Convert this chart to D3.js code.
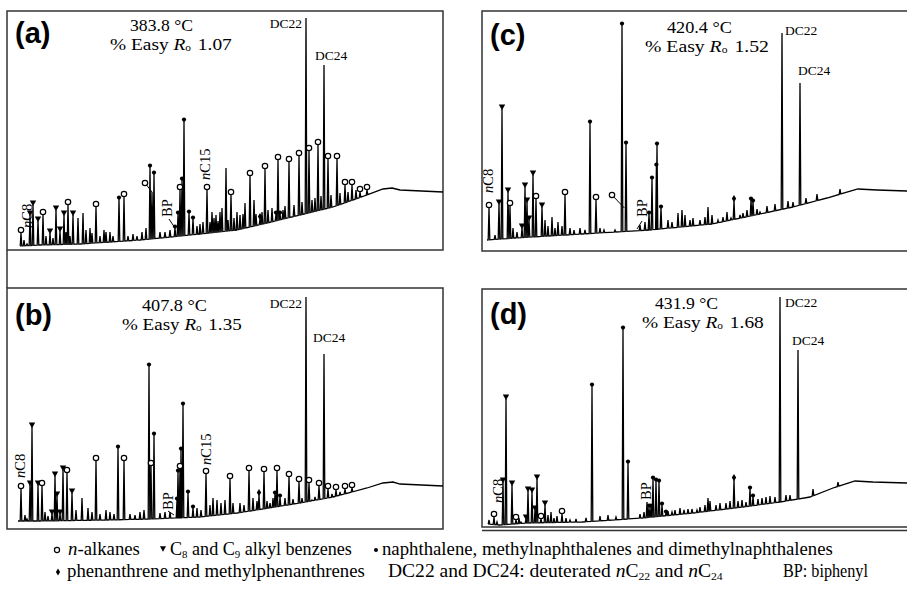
<!DOCTYPE html>
<html><head><meta charset="utf-8">
<script src="https://cdn.jsdelivr.net/npm/d3@7"></script>
<style>body{margin:0;background:#fff}svg{display:block}.serif{font-family:"Liberation Serif","Times New Roman",serif}.sans{font-family:"Liberation Sans",Arial,sans-serif}</style>
</head><body>
<svg id="chart" width="907" height="589"></svg>
<script>
// ---------------- DATA ----------------
// retention time (min) vs relative abundance; peak types:
// o = n-alkane, v = C8/C9 alkyl benzene, n = naphthalenes, p = phenanthrenes, D = deuterated standard
const panelLabels = ["(a)", "(b)", "(c)", "(d)"];
const temperatures = ["383.8 °C", "407.8 °C", "420.4 °C", "431.9 °C"];
const easyRo = ["1.07", "1.35", "1.52", "1.68"];

const baselineA = [[3.25,2],[8.25,2.5],[18.25,3],[33.25,5],[48.25,8],[57.5,10],[65,13.5],[73.25,17.5],[81.5,21.5],[90,27.5],[94,30.5],[96.25,31],[98.25,30],[109,29]];
const peaksA = [[3.5,8.5,"o"],[5.75,17.5,"v"],[6.5,22.5,"v"],[7.75,14.5,"v"],[9,17.5,"o"],[10.75,8.5,"v"],[12.25,20,"v"],[13.25,9.5,"v"],[14.25,17.5,"v"],[15.25,22.5,"o"],[16.5,17.5,"v"],[22.25,21.5,"o"],[28,25.5,"n"],[29.25,26.5,"o"],[35.75,41.5,"n"],[36.75,38,"n"],[42,11,"n"],[42.75,18,"n"],[43.25,30,"o"],[43.75,35,"n"],[44.25,64.5,"n"],[45.5,18.5,"n"],[46.5,15.5,"n"],[50,30,"o"],[56,27.5,"o"],[60.75,37,"o"],[63.25,15.5,"p"],[64.5,40.5,"o"],[67.25,18,"n"],[67.75,45,"o"],[68.25,18,"n"],[70.5,44,"o"],[73,47,"o"],[74.75,116,"D"],[75.5,49.5,"o"],[77.75,52.5,"o"],[79.25,92.5,"D"],[80.25,45.5,"o"],[82.5,45.5,"o"],[84.5,32.5,"o"],[86.25,32.5,"o"],[88.25,29,"o"],[90,30,"o"]];
const minorA = [[4.25,5],[5,3],[9.75,7],[11.5,6],[14.75,9],[15.75,7],[17.75,16],[19,18.5],[19.75,10],[20.75,11],[21.25,8.5],[23.25,7],[24.25,10],[24.75,9],[25.75,9],[26.5,7],[30.25,7],[31.5,8],[32.5,7],[33.75,9],[34.75,11],[36.25,29],[38.25,9],[39.5,9],[40.75,10],[47.5,12],[48.25,13],[49,14],[50.75,14],[51.25,19],[51.75,16],[52.25,17.5],[52.75,14.5],[53.25,19],[53.75,21],[54.75,41],[55.25,15],[56.75,16],[57.5,19],[58.25,17.5],[59,18],[59.5,23.5],[61.75,25],[62.25,18],[63.75,19],[65.25,20],[66.25,21],[69,20],[69.5,22],[71.75,22.5],[73.75,24],[76.25,25],[77,26],[78.5,27],[81,27.5],[83.25,28.5],[85.25,29],[87.25,30]];

const baselineB = [[2.75,4.5],[8.25,4.5],[25,5],[35.75,5.5],[48.25,6.5],[57.5,8.5],[60.75,9.5],[73.25,13.5],[81.5,16.5],[90,21],[94,23.5],[96.5,24],[98.25,23],[109,22]];
const peaksB = [[3.5,20.5,"o"],[5.75,22.5,"v"],[6.25,51.5,"v"],[7.75,22.5,"v"],[8.75,22,"o"],[11.25,8,"v"],[12,27,"v"],[12.5,17,"v"],[13.25,8,"v"],[14,30,"v"],[15,28.5,"o"],[16.25,18.5,"v"],[22.25,34.5,"o"],[27.75,41,"n"],[29.25,34.5,"o"],[35.5,82,"n"],[36,32,"o"],[36.75,47.5,"n"],[42.5,15,"n"],[42.75,29,"n"],[43.25,30.5,"o"],[43.5,40,"n"],[44,62.5,"n"],[45.25,18.5,"n"],[46.5,11,"n"],[49.75,28,"o"],[55.75,25.5,"o"],[60.5,29.5,"o"],[63,17.5,"p"],[64.25,29,"o"],[67,18,"n"],[67.5,29.5,"o"],[68.25,16.5,"n"],[70.5,26.5,"o"],[73,24,"o"],[74.75,116.5,"D"],[75.5,23.5,"o"],[78,22,"o"],[79.25,88,"D"],[80.25,20.5,"o"],[82.25,20,"o"],[84.5,20.5,"o"],[86.25,21,"o"]];
const minorB = [[4.5,7.5],[5,5.5],[9.5,9],[10.25,7],[17.25,10],[18.75,16],[20.25,11],[21.25,9],[23.25,8],[24.75,10],[25.75,9],[26.75,8],[30.75,8],[32,7.5],[33.25,9],[34.25,10],[38.25,8.5],[39.5,9],[40.75,9],[47.5,11],[48.5,10],[50.75,12.5],[51.5,16],[52.5,15],[53.5,13.5],[54.5,15],[56.5,13.5],[58.25,13.5],[59.25,12.5],[61.5,16],[62.5,14.5],[65,14.5],[65.75,13.5],[66.5,16],[69.5,16],[71.5,15.5],[73.75,16],[76.25,15],[77,16.5],[81.25,18],[83.25,19]];

const baselineC = [[1.25,6],[8.25,7],[25,9],[41.75,11],[57.5,14],[69.5,19],[77.75,22.5],[86.25,27],[94,31.5],[98.75,31],[106.25,30.5],[109,30.5]];
const peaksC = [[1.75,22,"o"],[4.25,24,"v"],[5,71.5,"v"],[6.5,30,"v"],[7,23,"o"],[10,12,"v"],[10.75,32.5,"v"],[11.25,25,"v"],[11.75,16,"v"],[12.75,38.5,"v"],[13.5,26.5,"o"],[15,22.5,"v"],[20.75,28.5,"o"],[27,64.5,"n"],[28.5,26,"o"],[35,113.5,"n"],[36,54,"n"],[41.75,19,"n"],[42.5,36.5,"n"],[43.6,43,"n"],[43.75,53.5,"n"],[44.75,22,"n"],[63,25.5,"p"],[67.25,26,"n"],[67.75,25,"n"],[75,109.5,"D"],[79.5,84.5,"D"]];
const minorC = [[3.25,8.5],[7.75,12],[8.75,10],[15.75,16],[16.5,13],[17.5,17.5],[18.25,12],[19,15],[20,13],[22,12],[23,11],[24.5,12],[25.75,11],[29.5,12],[30.5,11],[33.25,11],[39.5,13.5],[40.75,15],[46.5,16],[47.5,15],[49,19.5],[50,21],[50.75,18.5],[52,16],[52.75,17],[54.5,16],[55.75,17.5],[56.5,22.5],[57.5,18.5],[59,16],[60.25,17.5],[61.25,20],[62.25,17],[64.5,18.5],[65.25,19.5],[66.25,21],[68.75,21.5],[69.5,20],[71.25,23],[73.25,24],[76.5,25.5],[77.75,25],[81,27],[83.75,29],[89.5,31.5]];

const baselineD = [[1.5,2],[4.25,1.5],[11.25,2.5],[25,3],[40.25,5],[52.75,7.5],[65.25,10.5],[74.5,13],[82,15.5],[87.75,20],[93.25,23.5],[97.75,23],[106.25,22.5],[109,22.5]];
const peaksD = [[3,5.5,"o"],[5.25,23,"v"],[6,64.5,"v"],[7.5,21.5,"v"],[8.5,4,"o"],[11,4.5,"v"],[11.5,18.5,"v"],[12.5,18,"v"],[13.25,9,"v"],[13.75,24.5,"v"],[14.75,4.5,"o"],[15.75,11.5,"v"],[20,7,"o"],[27.5,71,"n"],[35.25,99.5,"n"],[36.5,32.5,"n"],[41.75,10.5,"n"],[42.25,10.5,"n"],[42.75,24.5,"n"],[43.5,23.5,"n"],[44.25,23,"n"],[45,11.5,"n"],[46,7.5,"n"],[63,24,"p"],[67,19.5,"n"],[67.75,15.5,"n"],[74.5,115.5,"D"],[79,89,"D"]];
const minorD = [[1.75,4],[3.75,3],[9.25,5],[9.75,3],[16.5,6.5],[17.25,8],[18,5],[18.75,6],[21,5],[22,4],[23.5,4.5],[26,5],[29.5,6],[31.5,6.5],[33.5,5.5],[39.5,7],[40.5,8],[41.25,13],[46.5,8.5],[47.5,8],[48.25,9],[49.5,10],[50.5,9],[51.5,9.5],[52.5,9.5],[53.75,9],[54.5,10.5],[55.75,11.5],[56.5,15],[57,13.5],[58.5,11.5],[59.5,12.5],[61,12.5],[62,13.5],[64,13.5],[65,14],[66,13],[69,14.5],[70,15],[71,15.5],[72,16],[73.25,15.5],[76,16.5],[77,16.5],[82.75,19.5],[89,23]];

// annotations (text, retention time, abundance)
const rotLabelsA = [["nC8",6.25,11],["nC15",50.75,35],["BP",41.25,16.5]];
const rotLabelsB = [["nC8",4.5,26],["nC15",51,32.5],["BP",41.5,10]];
const rotLabelsC = [["nC8",2.75,29.5],["BP",41.25,17.5]];
const rotLabelsD = [["nC8",5.25,12.5],["BP",42.25,14]];
const leadersA = [[40.5,15.5,42,11]];
const leadersB = [[40.25,9.5,41.75,7.5]];
const leadersC = [[38.75,11.5,40,15.5]];
const leadersD = [];
const circleLeadersA = [[34.5,33.5,36.25,29]];
const circleLeadersB = [];
const circleLeadersC = [[32.5,28.5,35.6,22]];
const circleLeadersD = [];
const dcLabelsA = [["DC22",73.75,111,"end"],["DC24",77,95,"start"]];
const dcLabelsB = [["DC22",73.75,111,"end"],["DC24",76.5,94,"start"]];
const dcLabelsC = [["DC22",75.75,108.5,"start"],["DC24",79,88.5,"start"]];
const dcLabelsD = [["DC22",75.75,110.5,"start"],["DC24",77.5,91.5,"start"]];

const legendRow1 = [
  {sym:"o", parts:[["n","i"],["-alkanes",""]]},
  {sym:"v", parts:[["C",""],["8","s"],[" and C",""],["9","s"],[" alkyl benzenes",""]]},
  {sym:"n", parts:[["naphthalene, methylnaphthalenes and dimethylnaphthalenes",""]]}
];
const legendRow2 = [
  {sym:"p", parts:[["phenanthrene and methylphenanthrenes",""]]},
  {sym:"", parts:[["DC22 and DC24: deuterated ",""],["n","i"],["C",""],["22","s"],[" and ",""],["n","i"],["C",""],["24","s"]]},
  {sym:"", parts:[["BP: biphenyl",""]]}
];

// ---------------- LAYOUT ----------------
const svg = d3.select("#chart");

const panels = [
  {label:0, base:baselineA, peaks:peaksA, minor:minorA, rot:rotLabelsA, lead:leadersA, cl:circleLeadersA, dc:dcLabelsA,
   left:7, zero:250, frame:{x:7,y:11,w:436,h:239}, lab:[15,43], temp:[130,31,63], ro:[110,50,115]},
  {label:1, base:baselineB, peaks:peaksB, minor:minorB, rot:rotLabelsB, lead:leadersB, cl:circleLeadersB, dc:dcLabelsB,
   left:7, zero:530, frame:{x:7,y:288,w:436,h:241}, lab:[15,325], temp:[142,311,65], ro:[122,330,113]},
  {label:2, base:baselineC, peaks:peaksC, minor:minorC, rot:rotLabelsC, lead:leadersC, cl:circleLeadersC, dc:dcLabelsC,
   left:482, zero:252, frame:{x:482,y:11,w:440,h:240}, lab:[490,45], temp:[667,33,65], ro:[645,52,117]},
  {label:3, base:baselineD, peaks:peaksD, minor:minorD, rot:rotLabelsD, lead:leadersD, cl:circleLeadersD, dc:dcLabelsD,
   left:482, zero:528, frame:{x:482,y:289,w:440,h:238}, lab:[490,324], temp:[655,309,63], ro:[642,328,115]}
];

function fit(textSel, x, y, width) {
  const w = textSel.node().getComputedTextLength();
  textSel.attr("x", 0).attr("y", 0)
    .attr("transform", `translate(${x},${y}) scale(${width / w},1)`);
}

function addParts(t, parts, base) {
  let shifted = false;
  parts.forEach(([s, st]) => {
    const ts = t.append("tspan").text(s);
    if (st === "i") ts.attr("font-style", "italic");
    if (st === "s") { ts.attr("font-size", base * 0.6).attr("dy", shifted ? 0 : 3); shifted = true; }
    else if (shifted) { ts.attr("dy", -3); shifted = false; }
  });
}

function marker(g, type, cx, cy, scale) {
  const k = scale || 1;
  if (type === "o") {
    g.append("circle").attr("cx", cx).attr("cy", cy).attr("r", 2.7 * k)
      .attr("fill", "#fff").attr("stroke", "#000").attr("stroke-width", 1.2);
  } else if (type === "n") {
    g.append("circle").attr("cx", cx).attr("cy", cy).attr("r", 2.1 * k).attr("fill", "#000");
  } else if (type === "v") {
    const w = 3.2 * k, h = 5.6 * k;
    g.append("path").attr("d", `M${cx - w},${cy - h / 2}L${cx + w},${cy - h / 2}L${cx},${cy + h / 2}Z`).attr("fill", "#000");
  } else if (type === "p") {
    const w = 2.2 * k, h = 3.6 * k;
    g.append("path").attr("d", `M${cx},${cy - h}L${cx + w},${cy}L${cx},${cy + h}L${cx - w},${cy}Z`).attr("fill", "#000");
  }
}

panels.forEach(p => {
  const g = svg.append("g");
  const x = d3.scaleLinear().domain([0, 109]).range([p.left, p.left + 436]);
  const y = d3.scaleLinear().domain([0, 120]).range([p.zero, p.zero - 240]);
  const bl = d3.scaleLinear().domain(p.base.map(d => d[0])).range(p.base.map(d => d[1])).clamp(true);

  // frame
  g.append("rect").attr("x", p.frame.x).attr("y", p.frame.y).attr("width", p.frame.w).attr("height", p.frame.h)
    .attr("fill", "none").attr("stroke", "#333").attr("stroke-width", 1.5);

  // chromatogram trace
  const ev = [];
  p.base.forEach(d => ev.push({t: d[0], k: true}));
  p.peaks.forEach(d => ev.push({t: d[0], I: d[1]}));
  p.minor.forEach(d => ev.push({t: d[0], I: d[1]}));
  ev.sort((a, b) => a.t - b.t);
  const hw = 0.2, pts = [];
  ev.forEach(e => {
    if (e.k) pts.push([e.t, bl(e.t)]);
    else pts.push([e.t - hw, bl(e.t - hw)], [e.t, e.I], [e.t + hw, bl(e.t + hw)]);
  });
  g.append("path").attr("d", d3.line().x(d => x(d[0])).y(d => y(d[1]))(pts))
    .attr("fill", "none").attr("stroke", "#000").attr("stroke-width", 1.3).attr("stroke-linejoin", "miter");

  // leaders
  p.lead.forEach(l => g.append("line").attr("x1", x(l[0])).attr("y1", y(l[1])).attr("x2", x(l[2])).attr("y2", y(l[3]))
    .attr("stroke", "#000").attr("stroke-width", 1));
  p.cl.forEach(l => {
    const cx = x(l[0]), cy = y(l[1]);
    g.append("line").attr("x1", cx).attr("y1", cy).attr("x2", x(l[2])).attr("y2", y(l[3]))
      .attr("stroke", "#000").attr("stroke-width", 1);
    marker(g, "o", cx, cy);
  });

  // markers
  p.peaks.forEach(d => {
    const cx = x(d[0]), top = y(d[1]);
    if (d[2] === "o") marker(g, "o", cx, top - 3);
    else if (d[2] === "n") marker(g, "n", cx, top - 1.4);
    else if (d[2] === "v") marker(g, "v", cx, top - 1.6);
    else if (d[2] === "p") marker(g, "p", cx, top - 2.4);
  });

  // rotated compound labels
  p.rot.forEach(r => {
    const t = g.append("text").attr("class", "serif").attr("transform", `translate(${x(r[1])},${y(r[2])}) rotate(-90)`)
      .attr("font-size", 14.5);
    if (r[0][0] === "n") { t.append("tspan").attr("font-style", "italic").text("n"); t.append("tspan").text(r[0].slice(1)); }
    else t.text(r[0]);
  });

  // standards
  p.dc.forEach(d => g.append("text").attr("class", "serif").attr("x", x(d[1])).attr("y", y(d[2])).attr("text-anchor", d[3])
    .attr("font-size", 13.5).text(d[0]));

  // panel letter
  g.append("text").attr("class", "sans").attr("x", p.lab[0]).attr("y", p.lab[1]).attr("font-weight", "bold")
    .attr("font-size", 29).text(panelLabels[p.label]);

  // temperature / maturity
  const tt = g.append("text").attr("class", "serif").attr("font-size", 17).text(temperatures[p.label]);
  fit(tt, p.temp[0], p.temp[1], p.temp[2]);
  const rt = g.append("text").attr("class", "serif").attr("font-size", 17);
  rt.append("tspan").text("% Easy ");
  rt.append("tspan").attr("font-style", "italic").text("R");
  rt.append("tspan").attr("font-size", 10).attr("dy", 1).text("o");
  rt.append("tspan").attr("dy", -1).attr("dx", 6).text(easyRo[p.label]);
  fit(rt, p.ro[0], p.ro[1], p.ro[2]);
});

// connecting line between (a) and (b), double bottom rule of (d)
svg.append("line").attr("x1", 7).attr("x2", 7).attr("y1", 250).attr("y2", 288).attr("stroke", "#333").attr("stroke-width", 1.5);
svg.append("line").attr("x1", 482).attr("x2", 907).attr("y1", 530.5).attr("y2", 530.5).attr("stroke", "#333").attr("stroke-width", 1.3);

// ---------------- LEGEND ----------------
const leg = svg.append("g");
const legLayout1 = [{sx:57, sy:550, tx:68, tw:72}, {sx:163, sy:549, tx:170, tw:182}, {sx:376, sy:550, tx:382, tw:451}];
const legLayout2 = [{sx:58, sy:572, tx:67, tw:298}, {sx:0, sy:0, tx:388, tw:335}, {sx:0, sy:0, tx:783, tw:85}];
[[legendRow1, legLayout1, 555], [legendRow2, legLayout2, 577]].forEach(([row, lay, by]) => {
  row.forEach((item, i) => {
    const L = lay[i];
    if (item.sym) marker(leg, item.sym, L.sx, L.sy, 0.95);
    const t = leg.append("text").attr("class", "serif").attr("font-size", 18);
    addParts(t, item.parts, 18);
    fit(t, L.tx, by, L.tw);
  });
});
</script>
</body></html>
